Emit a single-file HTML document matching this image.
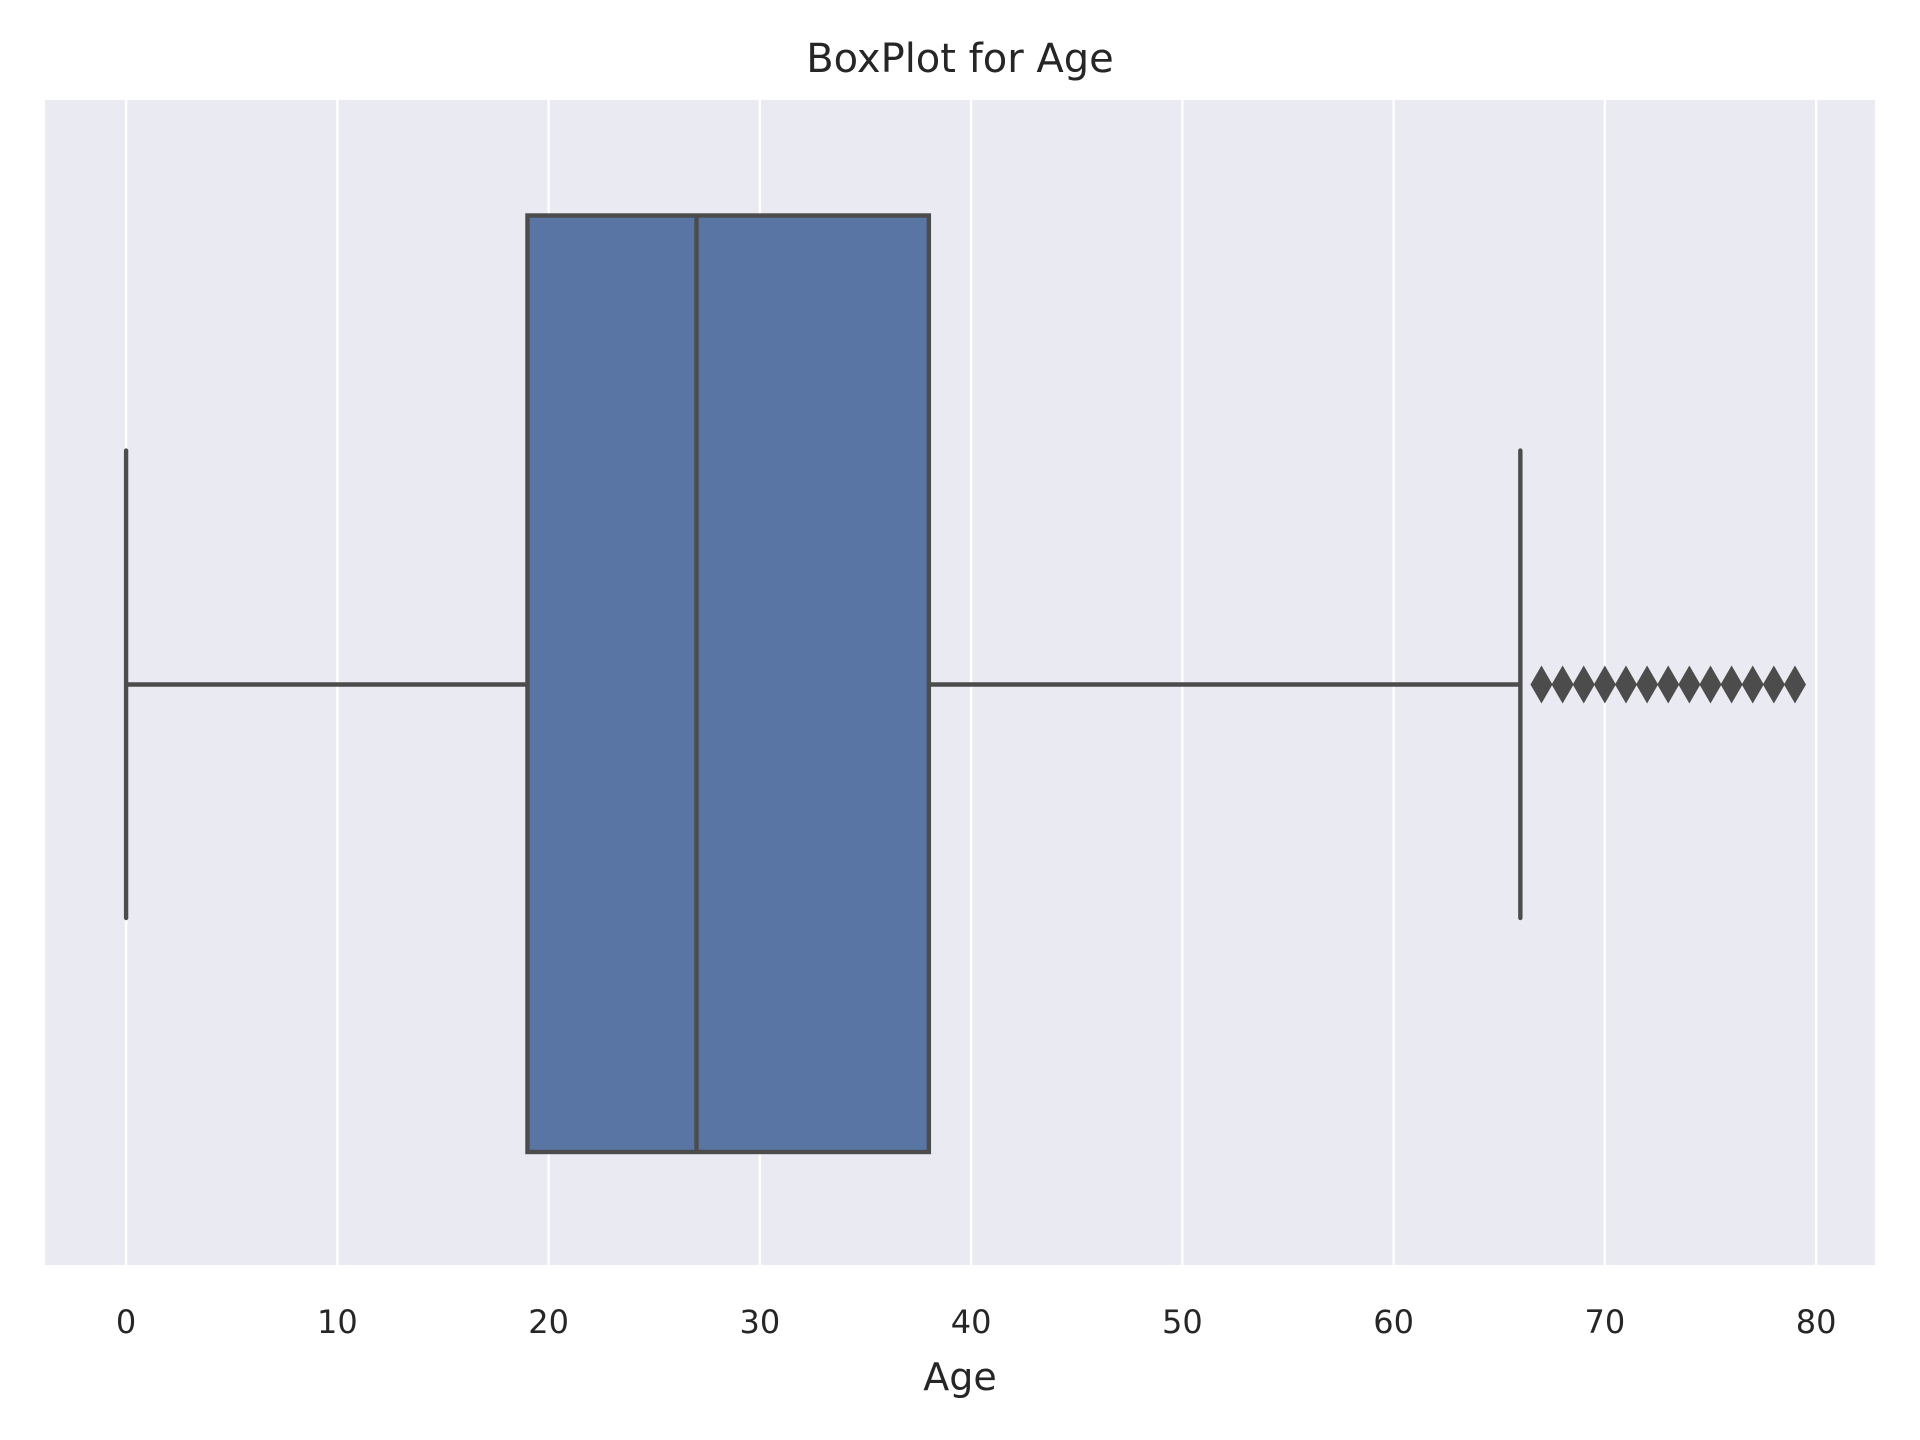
<!DOCTYPE html>
<html><head><meta charset="utf-8"><style>html,body{margin:0;padding:0;background:#fff}svg{display:block}text{font-family:"DejaVu Sans","Liberation Sans",sans-serif;fill:#262626}</style></head>
<body>
<svg id="chart" width="1920" height="1440">
<text x="960" y="72" font-size="40" text-anchor="middle">BoxPlot for Age</text>
<rect x="45" y="100" width="1830" height="1165" fill="#eaeaf2"/>
<g id="grid"></g><g id="box"></g><g id="ticks"></g>
<text x="960" y="1390" font-size="38" text-anchor="middle">Age</text>
</svg>
<script>
const tickValues=[0,10,20,30,40,50,60,70,80];
const whiskerLow=[0];
const q1=[19];
const median=[27];
const q3=[38];
const whiskerHigh=[66];
const outliers=[67,68,69,70,71,72,73,74,75,76,77,78,79];
const NS="http://www.w3.org/2000/svg";
const x=v=>126.1+v*21.125;
const yTop=215.5,yBot=1152,yMid=684.5,wTop=450.6,wBot=918;
function mk(t,a,p){const e=document.createElementNS(NS,t);for(const k in a)e.setAttribute(k,a[k]);p.appendChild(e);return e;}
const grid=document.getElementById('grid'),ticks=document.getElementById('ticks'),box=document.getElementById('box');
tickValues.forEach(v=>{
 const l=mk('line',{x1:x(v),x2:x(v),y1:100,y2:1265,stroke:'#fff','stroke-width':2.4},grid);
 
 
 const t=mk('text',{x:x(v),y:1333,'font-size':32,'text-anchor':'middle'},ticks);
 t.textContent=v;
 
 
});
const c='#4c4c4c',sw=4.4;
let e;
e=mk('line',{x1:x(whiskerLow[0]),x2:x(q1[0]),y1:yMid,y2:yMid,stroke:c,'stroke-width':sw},box);


e=mk('line',{x1:x(q3[0]),x2:x(whiskerHigh[0]),y1:yMid,y2:yMid,stroke:c,'stroke-width':sw},box);


e=mk('line',{x1:x(whiskerLow[0]),x2:x(whiskerLow[0]),y1:wTop,y2:wBot,stroke:c,'stroke-width':sw,'stroke-linecap':'round'},box);


e=mk('line',{x1:x(whiskerHigh[0]),x2:x(whiskerHigh[0]),y1:wTop,y2:wBot,stroke:c,'stroke-width':sw,'stroke-linecap':'round'},box);


e=mk('rect',{x:x(q1[0]),y:yTop,width:x(q3[0])-x(q1[0]),height:yBot-yTop,fill:'#5875a4',stroke:c,'stroke-width':sw},box);


e=mk('line',{x1:x(median[0]),x2:x(median[0]),y1:yTop,y2:yBot,stroke:c,'stroke-width':sw},box);


outliers.forEach(v=>{
 const cx=x(v),hw=11,hh=19;
 const p=mk('polygon',{points:`${cx-hw},${yMid} ${cx},${yMid-hh} ${cx+hw},${yMid} ${cx},${yMid+hh}`,fill:c},box);
 
 
});
</script>
</body></html>
